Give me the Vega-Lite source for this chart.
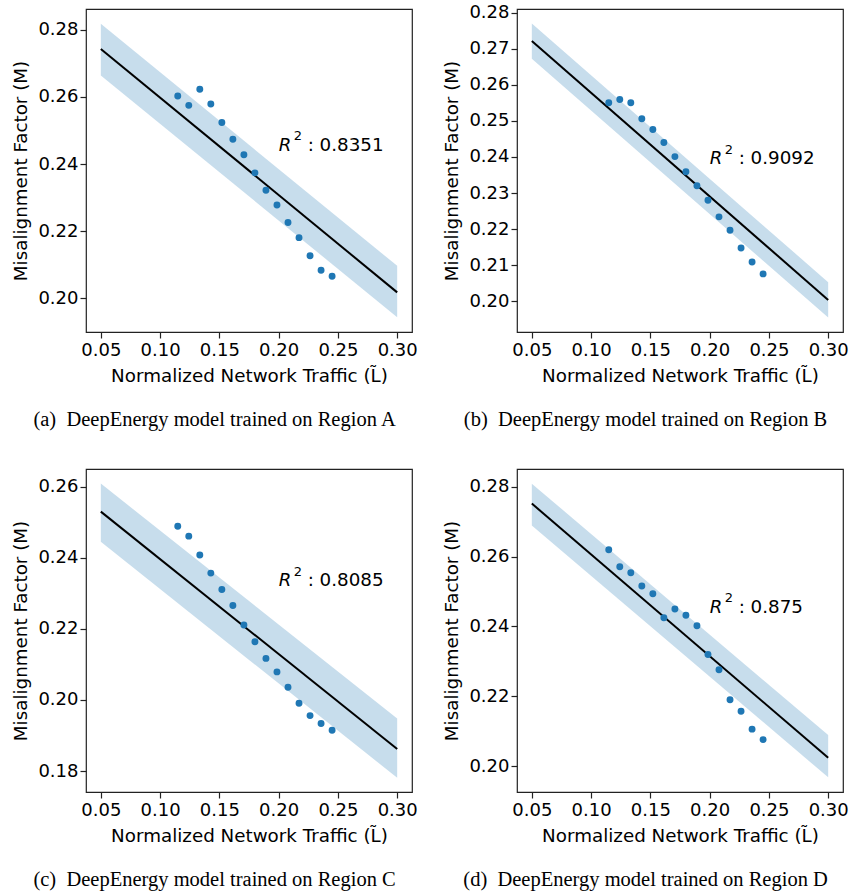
{
  "$schema": "https://vega.github.io/schema/vega-lite/v6.json",
  "background": "white",
  "padding": {"left": 11, "top": 3, "right": 2, "bottom": 0},
  "config": {
    "view": {"stroke": "#222222", "strokeWidth": 1.2},
    "axis": {
      "labelFont": "DejaVu Sans", "labelFontSize": 18, "labelColor": "black",
      "titleFont": "DejaVu Sans", "titleFontSize": 18.3, "titleFontWeight": "normal", "titleColor": "black",
      "tickColor": "#222222", "tickSize": 6, "tickWidth": 1.2, "domain": false, "grid": false
    },
    "axisX": {"labelPadding": 3, "titlePadding": 8},
    "axisY": {"labelPadding": 2, "titlePadding": 7},
    "title": {"font": "Liberation Serif", "fontSize": 20.5, "fontWeight": "normal", "color": "black", "orient": "bottom", "anchor": "middle", "frame": "bounds", "offset": 26}
  },
  "datasets": {
    "pts": [
      {"p": "A", "x": 0.1149, "y": 0.2603}, {"p": "A", "x": 0.1242, "y": 0.2575}, {"p": "A", "x": 0.1335, "y": 0.2623},
      {"p": "A", "x": 0.1428, "y": 0.2579}, {"p": "A", "x": 0.1521, "y": 0.2524}, {"p": "A", "x": 0.1614, "y": 0.2474},
      {"p": "A", "x": 0.1707, "y": 0.2428}, {"p": "A", "x": 0.1800, "y": 0.2374}, {"p": "A", "x": 0.1893, "y": 0.2322},
      {"p": "A", "x": 0.1986, "y": 0.2278}, {"p": "A", "x": 0.2079, "y": 0.2226}, {"p": "A", "x": 0.2172, "y": 0.2181},
      {"p": "A", "x": 0.2265, "y": 0.2127}, {"p": "A", "x": 0.2358, "y": 0.2084}, {"p": "A", "x": 0.2451, "y": 0.2066},
      {"p": "B", "x": 0.1149, "y": 0.2550}, {"p": "B", "x": 0.1242, "y": 0.2559}, {"p": "B", "x": 0.1335, "y": 0.2550},
      {"p": "B", "x": 0.1428, "y": 0.2506}, {"p": "B", "x": 0.1521, "y": 0.2476}, {"p": "B", "x": 0.1614, "y": 0.2440},
      {"p": "B", "x": 0.1707, "y": 0.2401}, {"p": "B", "x": 0.1800, "y": 0.2359}, {"p": "B", "x": 0.1893, "y": 0.2320},
      {"p": "B", "x": 0.1986, "y": 0.2280}, {"p": "B", "x": 0.2079, "y": 0.2234}, {"p": "B", "x": 0.2172, "y": 0.2197},
      {"p": "B", "x": 0.2265, "y": 0.2148}, {"p": "B", "x": 0.2358, "y": 0.2109}, {"p": "B", "x": 0.2451, "y": 0.2076},
      {"p": "C", "x": 0.1149, "y": 0.2489}, {"p": "C", "x": 0.1242, "y": 0.2461}, {"p": "C", "x": 0.1335, "y": 0.2408},
      {"p": "C", "x": 0.1428, "y": 0.2357}, {"p": "C", "x": 0.1521, "y": 0.2311}, {"p": "C", "x": 0.1614, "y": 0.2266},
      {"p": "C", "x": 0.1707, "y": 0.2211}, {"p": "C", "x": 0.1800, "y": 0.2164}, {"p": "C", "x": 0.1893, "y": 0.2117},
      {"p": "C", "x": 0.1986, "y": 0.2079}, {"p": "C", "x": 0.2079, "y": 0.2036}, {"p": "C", "x": 0.2172, "y": 0.1991},
      {"p": "C", "x": 0.2265, "y": 0.1956}, {"p": "C", "x": 0.2358, "y": 0.1934}, {"p": "C", "x": 0.2451, "y": 0.1915},
      {"p": "D", "x": 0.1149, "y": 0.2620}, {"p": "D", "x": 0.1242, "y": 0.2571}, {"p": "D", "x": 0.1335, "y": 0.2554},
      {"p": "D", "x": 0.1428, "y": 0.2516}, {"p": "D", "x": 0.1521, "y": 0.2494}, {"p": "D", "x": 0.1614, "y": 0.2425},
      {"p": "D", "x": 0.1707, "y": 0.2450}, {"p": "D", "x": 0.1800, "y": 0.2432}, {"p": "D", "x": 0.1893, "y": 0.2402},
      {"p": "D", "x": 0.1986, "y": 0.2320}, {"p": "D", "x": 0.2079, "y": 0.2276}, {"p": "D", "x": 0.2172, "y": 0.2190},
      {"p": "D", "x": 0.2265, "y": 0.2157}, {"p": "D", "x": 0.2358, "y": 0.2106}, {"p": "D", "x": 0.2451, "y": 0.2076}
    ],
    "fit": [
      {"p": "A", "x": 0.05, "y": 0.2743, "lo": 0.2664, "hi": 0.2818},
      {"p": "A", "x": 0.30, "y": 0.2018, "lo": 0.1944, "hi": 0.2097},
      {"p": "B", "x": 0.05, "y": 0.2721, "lo": 0.2672, "hi": 0.2770},
      {"p": "B", "x": 0.30, "y": 0.2004, "lo": 0.1955, "hi": 0.2053},
      {"p": "C", "x": 0.05, "y": 0.2530, "lo": 0.2445, "hi": 0.2609},
      {"p": "C", "x": 0.30, "y": 0.1862, "lo": 0.1781, "hi": 0.1948},
      {"p": "D", "x": 0.05, "y": 0.2752, "lo": 0.2689, "hi": 0.2809},
      {"p": "D", "x": 0.30, "y": 0.2024, "lo": 0.1968, "hi": 0.2089}
    ],
    "ann": [
      {"p": "A", "x": 0.2, "y": 0.244, "v": ": 0.8351"},
      {"p": "B", "x": 0.2, "y": 0.238, "v": ": 0.9092"},
      {"p": "C", "x": 0.2, "y": 0.232, "v": ": 0.8085"},
      {"p": "D", "x": 0.2, "y": 0.244, "v": ": 0.875"}
    ]
  },
  "columns": 2,
  "spacing": {"column": 24, "row": 36},
  "concat": [
    {
      "width": 326, "height": 323,
      "title": {"text": "(a)\u00a0\u00a0DeepEnergy model trained on Region A"},
      "layer": [
        {"data": {"name": "fit"}, "transform": [{"filter": "datum.p === 'A'"}],
         "mark": {"type": "area", "color": "#c7ddec", "opacity": 1},
         "encoding": {
           "x": {"field": "x", "type": "quantitative", "title": "Normalized Network Traffic (L̃)", "scale": {"domain": [0.0375, 0.3125], "nice": false, "zero": false}, "axis": {"values": [0.05, 0.1, 0.15, 0.2, 0.25, 0.3], "format": ".2f"}},
           "y": {"field": "lo", "type": "quantitative", "title": "Misalignment Factor (M)", "scale": {"domain": [0.19, 0.2862], "nice": false, "zero": false}, "axis": {"values": [0.2, 0.22, 0.24, 0.26, 0.28], "format": ".2f"}},
           "y2": {"field": "hi"}}},
        {"data": {"name": "fit"}, "transform": [{"filter": "datum.p === 'A'"}],
         "mark": {"type": "line", "color": "black", "strokeWidth": 2},
         "encoding": {
           "x": {"field": "x", "type": "quantitative", "title": "Normalized Network Traffic (L̃)", "scale": {"domain": [0.0375, 0.3125], "nice": false, "zero": false}},
           "y": {"field": "y", "type": "quantitative", "title": "Misalignment Factor (M)", "scale": {"domain": [0.19, 0.2862], "nice": false, "zero": false}}}},
        {"data": {"name": "pts"}, "transform": [{"filter": "datum.p === 'A'"}],
         "mark": {"type": "circle", "color": "#1f77b4", "size": 48, "opacity": 1},
         "encoding": {
           "x": {"field": "x", "type": "quantitative", "title": "Normalized Network Traffic (L̃)", "scale": {"domain": [0.0375, 0.3125], "nice": false, "zero": false}},
           "y": {"field": "y", "type": "quantitative", "title": "Misalignment Factor (M)", "scale": {"domain": [0.19, 0.2862], "nice": false, "zero": false}}}},
        {"data": {"name": "ann"}, "transform": [{"filter": "datum.p === 'A'"}],
         "mark": {"type": "text", "align": "left", "baseline": "alphabetic", "font": "DejaVu Sans", "fontSize": 18, "fontStyle": "italic", "color": "black"},
         "encoding": {
           "x": {"field": "x", "type": "quantitative", "title": "Normalized Network Traffic (L̃)", "scale": {"domain": [0.0375, 0.3125], "nice": false, "zero": false}},
           "y": {"field": "y", "type": "quantitative", "title": "Misalignment Factor (M)", "scale": {"domain": [0.19, 0.2862], "nice": false, "zero": false}},
           "text": {"value": "R"}}},
        {"data": {"name": "ann"}, "transform": [{"filter": "datum.p === 'A'"}],
         "mark": {"type": "text", "align": "left", "baseline": "alphabetic", "font": "DejaVu Sans", "fontSize": 13, "color": "black", "dx": 15, "dy": -10.5},
         "encoding": {
           "x": {"field": "x", "type": "quantitative", "title": "Normalized Network Traffic (L̃)", "scale": {"domain": [0.0375, 0.3125], "nice": false, "zero": false}},
           "y": {"field": "y", "type": "quantitative", "title": "Misalignment Factor (M)", "scale": {"domain": [0.19, 0.2862], "nice": false, "zero": false}},
           "text": {"value": "2"}}},
        {"data": {"name": "ann"}, "transform": [{"filter": "datum.p === 'A'"}],
         "mark": {"type": "text", "align": "left", "baseline": "alphabetic", "font": "DejaVu Sans", "fontSize": 18.3, "color": "black", "dx": 29},
         "encoding": {
           "x": {"field": "x", "type": "quantitative", "title": "Normalized Network Traffic (L̃)", "scale": {"domain": [0.0375, 0.3125], "nice": false, "zero": false}},
           "y": {"field": "y", "type": "quantitative", "title": "Misalignment Factor (M)", "scale": {"domain": [0.19, 0.2862], "nice": false, "zero": false}},
           "text": {"field": "v"}}}
      ]
    },
    {
      "width": 326, "height": 323,
      "title": {"text": "(b)\u00a0\u00a0DeepEnergy model trained on Region B"},
      "layer": [
        {"data": {"name": "fit"}, "transform": [{"filter": "datum.p === 'B'"}],
         "mark": {"type": "area", "color": "#c7ddec", "opacity": 1},
         "encoding": {
           "x": {"field": "x", "type": "quantitative", "title": "Normalized Network Traffic (L̃)", "scale": {"domain": [0.0375, 0.3125], "nice": false, "zero": false}, "axis": {"values": [0.05, 0.1, 0.15, 0.2, 0.25, 0.3], "format": ".2f"}},
           "y": {"field": "lo", "type": "quantitative", "title": "Misalignment Factor (M)", "scale": {"domain": [0.1915, 0.281], "nice": false, "zero": false}, "axis": {"values": [0.2, 0.21, 0.22, 0.23, 0.24, 0.25, 0.26, 0.27, 0.28], "format": ".2f"}},
           "y2": {"field": "hi"}}},
        {"data": {"name": "fit"}, "transform": [{"filter": "datum.p === 'B'"}],
         "mark": {"type": "line", "color": "black", "strokeWidth": 2},
         "encoding": {
           "x": {"field": "x", "type": "quantitative", "title": "Normalized Network Traffic (L̃)", "scale": {"domain": [0.0375, 0.3125], "nice": false, "zero": false}},
           "y": {"field": "y", "type": "quantitative", "title": "Misalignment Factor (M)", "scale": {"domain": [0.1915, 0.281], "nice": false, "zero": false}}}},
        {"data": {"name": "pts"}, "transform": [{"filter": "datum.p === 'B'"}],
         "mark": {"type": "circle", "color": "#1f77b4", "size": 48, "opacity": 1},
         "encoding": {
           "x": {"field": "x", "type": "quantitative", "title": "Normalized Network Traffic (L̃)", "scale": {"domain": [0.0375, 0.3125], "nice": false, "zero": false}},
           "y": {"field": "y", "type": "quantitative", "title": "Misalignment Factor (M)", "scale": {"domain": [0.1915, 0.281], "nice": false, "zero": false}}}},
        {"data": {"name": "ann"}, "transform": [{"filter": "datum.p === 'B'"}],
         "mark": {"type": "text", "align": "left", "baseline": "alphabetic", "font": "DejaVu Sans", "fontSize": 18, "fontStyle": "italic", "color": "black"},
         "encoding": {
           "x": {"field": "x", "type": "quantitative", "title": "Normalized Network Traffic (L̃)", "scale": {"domain": [0.0375, 0.3125], "nice": false, "zero": false}},
           "y": {"field": "y", "type": "quantitative", "title": "Misalignment Factor (M)", "scale": {"domain": [0.1915, 0.281], "nice": false, "zero": false}},
           "text": {"value": "R"}}},
        {"data": {"name": "ann"}, "transform": [{"filter": "datum.p === 'B'"}],
         "mark": {"type": "text", "align": "left", "baseline": "alphabetic", "font": "DejaVu Sans", "fontSize": 13, "color": "black", "dx": 15, "dy": -10.5},
         "encoding": {
           "x": {"field": "x", "type": "quantitative", "title": "Normalized Network Traffic (L̃)", "scale": {"domain": [0.0375, 0.3125], "nice": false, "zero": false}},
           "y": {"field": "y", "type": "quantitative", "title": "Misalignment Factor (M)", "scale": {"domain": [0.1915, 0.281], "nice": false, "zero": false}},
           "text": {"value": "2"}}},
        {"data": {"name": "ann"}, "transform": [{"filter": "datum.p === 'B'"}],
         "mark": {"type": "text", "align": "left", "baseline": "alphabetic", "font": "DejaVu Sans", "fontSize": 18.3, "color": "black", "dx": 29},
         "encoding": {
           "x": {"field": "x", "type": "quantitative", "title": "Normalized Network Traffic (L̃)", "scale": {"domain": [0.0375, 0.3125], "nice": false, "zero": false}},
           "y": {"field": "y", "type": "quantitative", "title": "Misalignment Factor (M)", "scale": {"domain": [0.1915, 0.281], "nice": false, "zero": false}},
           "text": {"field": "v"}}}
      ]
    },
    {
      "width": 326, "height": 323,
      "title": {"text": "(c)\u00a0\u00a0DeepEnergy model trained on Region C"},
      "layer": [
        {"data": {"name": "fit"}, "transform": [{"filter": "datum.p === 'C'"}],
         "mark": {"type": "area", "color": "#c7ddec", "opacity": 1},
         "encoding": {
           "x": {"field": "x", "type": "quantitative", "title": "Normalized Network Traffic (L̃)", "scale": {"domain": [0.0375, 0.3125], "nice": false, "zero": false}, "axis": {"values": [0.05, 0.1, 0.15, 0.2, 0.25, 0.3], "format": ".2f"}},
           "y": {"field": "lo", "type": "quantitative", "title": "Misalignment Factor (M)", "scale": {"domain": [0.1741, 0.265], "nice": false, "zero": false}, "axis": {"values": [0.18, 0.2, 0.22, 0.24, 0.26], "format": ".2f"}},
           "y2": {"field": "hi"}}},
        {"data": {"name": "fit"}, "transform": [{"filter": "datum.p === 'C'"}],
         "mark": {"type": "line", "color": "black", "strokeWidth": 2},
         "encoding": {
           "x": {"field": "x", "type": "quantitative", "title": "Normalized Network Traffic (L̃)", "scale": {"domain": [0.0375, 0.3125], "nice": false, "zero": false}},
           "y": {"field": "y", "type": "quantitative", "title": "Misalignment Factor (M)", "scale": {"domain": [0.1741, 0.265], "nice": false, "zero": false}}}},
        {"data": {"name": "pts"}, "transform": [{"filter": "datum.p === 'C'"}],
         "mark": {"type": "circle", "color": "#1f77b4", "size": 48, "opacity": 1},
         "encoding": {
           "x": {"field": "x", "type": "quantitative", "title": "Normalized Network Traffic (L̃)", "scale": {"domain": [0.0375, 0.3125], "nice": false, "zero": false}},
           "y": {"field": "y", "type": "quantitative", "title": "Misalignment Factor (M)", "scale": {"domain": [0.1741, 0.265], "nice": false, "zero": false}}}},
        {"data": {"name": "ann"}, "transform": [{"filter": "datum.p === 'C'"}],
         "mark": {"type": "text", "align": "left", "baseline": "alphabetic", "font": "DejaVu Sans", "fontSize": 18, "fontStyle": "italic", "color": "black"},
         "encoding": {
           "x": {"field": "x", "type": "quantitative", "title": "Normalized Network Traffic (L̃)", "scale": {"domain": [0.0375, 0.3125], "nice": false, "zero": false}},
           "y": {"field": "y", "type": "quantitative", "title": "Misalignment Factor (M)", "scale": {"domain": [0.1741, 0.265], "nice": false, "zero": false}},
           "text": {"value": "R"}}},
        {"data": {"name": "ann"}, "transform": [{"filter": "datum.p === 'C'"}],
         "mark": {"type": "text", "align": "left", "baseline": "alphabetic", "font": "DejaVu Sans", "fontSize": 13, "color": "black", "dx": 15, "dy": -10.5},
         "encoding": {
           "x": {"field": "x", "type": "quantitative", "title": "Normalized Network Traffic (L̃)", "scale": {"domain": [0.0375, 0.3125], "nice": false, "zero": false}},
           "y": {"field": "y", "type": "quantitative", "title": "Misalignment Factor (M)", "scale": {"domain": [0.1741, 0.265], "nice": false, "zero": false}},
           "text": {"value": "2"}}},
        {"data": {"name": "ann"}, "transform": [{"filter": "datum.p === 'C'"}],
         "mark": {"type": "text", "align": "left", "baseline": "alphabetic", "font": "DejaVu Sans", "fontSize": 18.3, "color": "black", "dx": 29},
         "encoding": {
           "x": {"field": "x", "type": "quantitative", "title": "Normalized Network Traffic (L̃)", "scale": {"domain": [0.0375, 0.3125], "nice": false, "zero": false}},
           "y": {"field": "y", "type": "quantitative", "title": "Misalignment Factor (M)", "scale": {"domain": [0.1741, 0.265], "nice": false, "zero": false}},
           "text": {"field": "v"}}}
      ]
    },
    {
      "width": 326, "height": 323,
      "title": {"text": "(d)\u00a0\u00a0DeepEnergy model trained on Region D"},
      "layer": [
        {"data": {"name": "fit"}, "transform": [{"filter": "datum.p === 'D'"}],
         "mark": {"type": "area", "color": "#c7ddec", "opacity": 1},
         "encoding": {
           "x": {"field": "x", "type": "quantitative", "title": "Normalized Network Traffic (L̃)", "scale": {"domain": [0.0375, 0.3125], "nice": false, "zero": false}, "axis": {"values": [0.05, 0.1, 0.15, 0.2, 0.25, 0.3], "format": ".2f"}},
           "y": {"field": "lo", "type": "quantitative", "title": "Misalignment Factor (M)", "scale": {"domain": [0.1926, 0.2851], "nice": false, "zero": false}, "axis": {"values": [0.2, 0.22, 0.24, 0.26, 0.28], "format": ".2f"}},
           "y2": {"field": "hi"}}},
        {"data": {"name": "fit"}, "transform": [{"filter": "datum.p === 'D'"}],
         "mark": {"type": "line", "color": "black", "strokeWidth": 2},
         "encoding": {
           "x": {"field": "x", "type": "quantitative", "title": "Normalized Network Traffic (L̃)", "scale": {"domain": [0.0375, 0.3125], "nice": false, "zero": false}},
           "y": {"field": "y", "type": "quantitative", "title": "Misalignment Factor (M)", "scale": {"domain": [0.1926, 0.2851], "nice": false, "zero": false}}}},
        {"data": {"name": "pts"}, "transform": [{"filter": "datum.p === 'D'"}],
         "mark": {"type": "circle", "color": "#1f77b4", "size": 48, "opacity": 1},
         "encoding": {
           "x": {"field": "x", "type": "quantitative", "title": "Normalized Network Traffic (L̃)", "scale": {"domain": [0.0375, 0.3125], "nice": false, "zero": false}},
           "y": {"field": "y", "type": "quantitative", "title": "Misalignment Factor (M)", "scale": {"domain": [0.1926, 0.2851], "nice": false, "zero": false}}}},
        {"data": {"name": "ann"}, "transform": [{"filter": "datum.p === 'D'"}],
         "mark": {"type": "text", "align": "left", "baseline": "alphabetic", "font": "DejaVu Sans", "fontSize": 18, "fontStyle": "italic", "color": "black"},
         "encoding": {
           "x": {"field": "x", "type": "quantitative", "title": "Normalized Network Traffic (L̃)", "scale": {"domain": [0.0375, 0.3125], "nice": false, "zero": false}},
           "y": {"field": "y", "type": "quantitative", "title": "Misalignment Factor (M)", "scale": {"domain": [0.1926, 0.2851], "nice": false, "zero": false}},
           "text": {"value": "R"}}},
        {"data": {"name": "ann"}, "transform": [{"filter": "datum.p === 'D'"}],
         "mark": {"type": "text", "align": "left", "baseline": "alphabetic", "font": "DejaVu Sans", "fontSize": 13, "color": "black", "dx": 15, "dy": -10.5},
         "encoding": {
           "x": {"field": "x", "type": "quantitative", "title": "Normalized Network Traffic (L̃)", "scale": {"domain": [0.0375, 0.3125], "nice": false, "zero": false}},
           "y": {"field": "y", "type": "quantitative", "title": "Misalignment Factor (M)", "scale": {"domain": [0.1926, 0.2851], "nice": false, "zero": false}},
           "text": {"value": "2"}}},
        {"data": {"name": "ann"}, "transform": [{"filter": "datum.p === 'D'"}],
         "mark": {"type": "text", "align": "left", "baseline": "alphabetic", "font": "DejaVu Sans", "fontSize": 18.3, "color": "black", "dx": 29},
         "encoding": {
           "x": {"field": "x", "type": "quantitative", "title": "Normalized Network Traffic (L̃)", "scale": {"domain": [0.0375, 0.3125], "nice": false, "zero": false}},
           "y": {"field": "y", "type": "quantitative", "title": "Misalignment Factor (M)", "scale": {"domain": [0.1926, 0.2851], "nice": false, "zero": false}},
           "text": {"field": "v"}}}
      ]
    }
  ]
}
